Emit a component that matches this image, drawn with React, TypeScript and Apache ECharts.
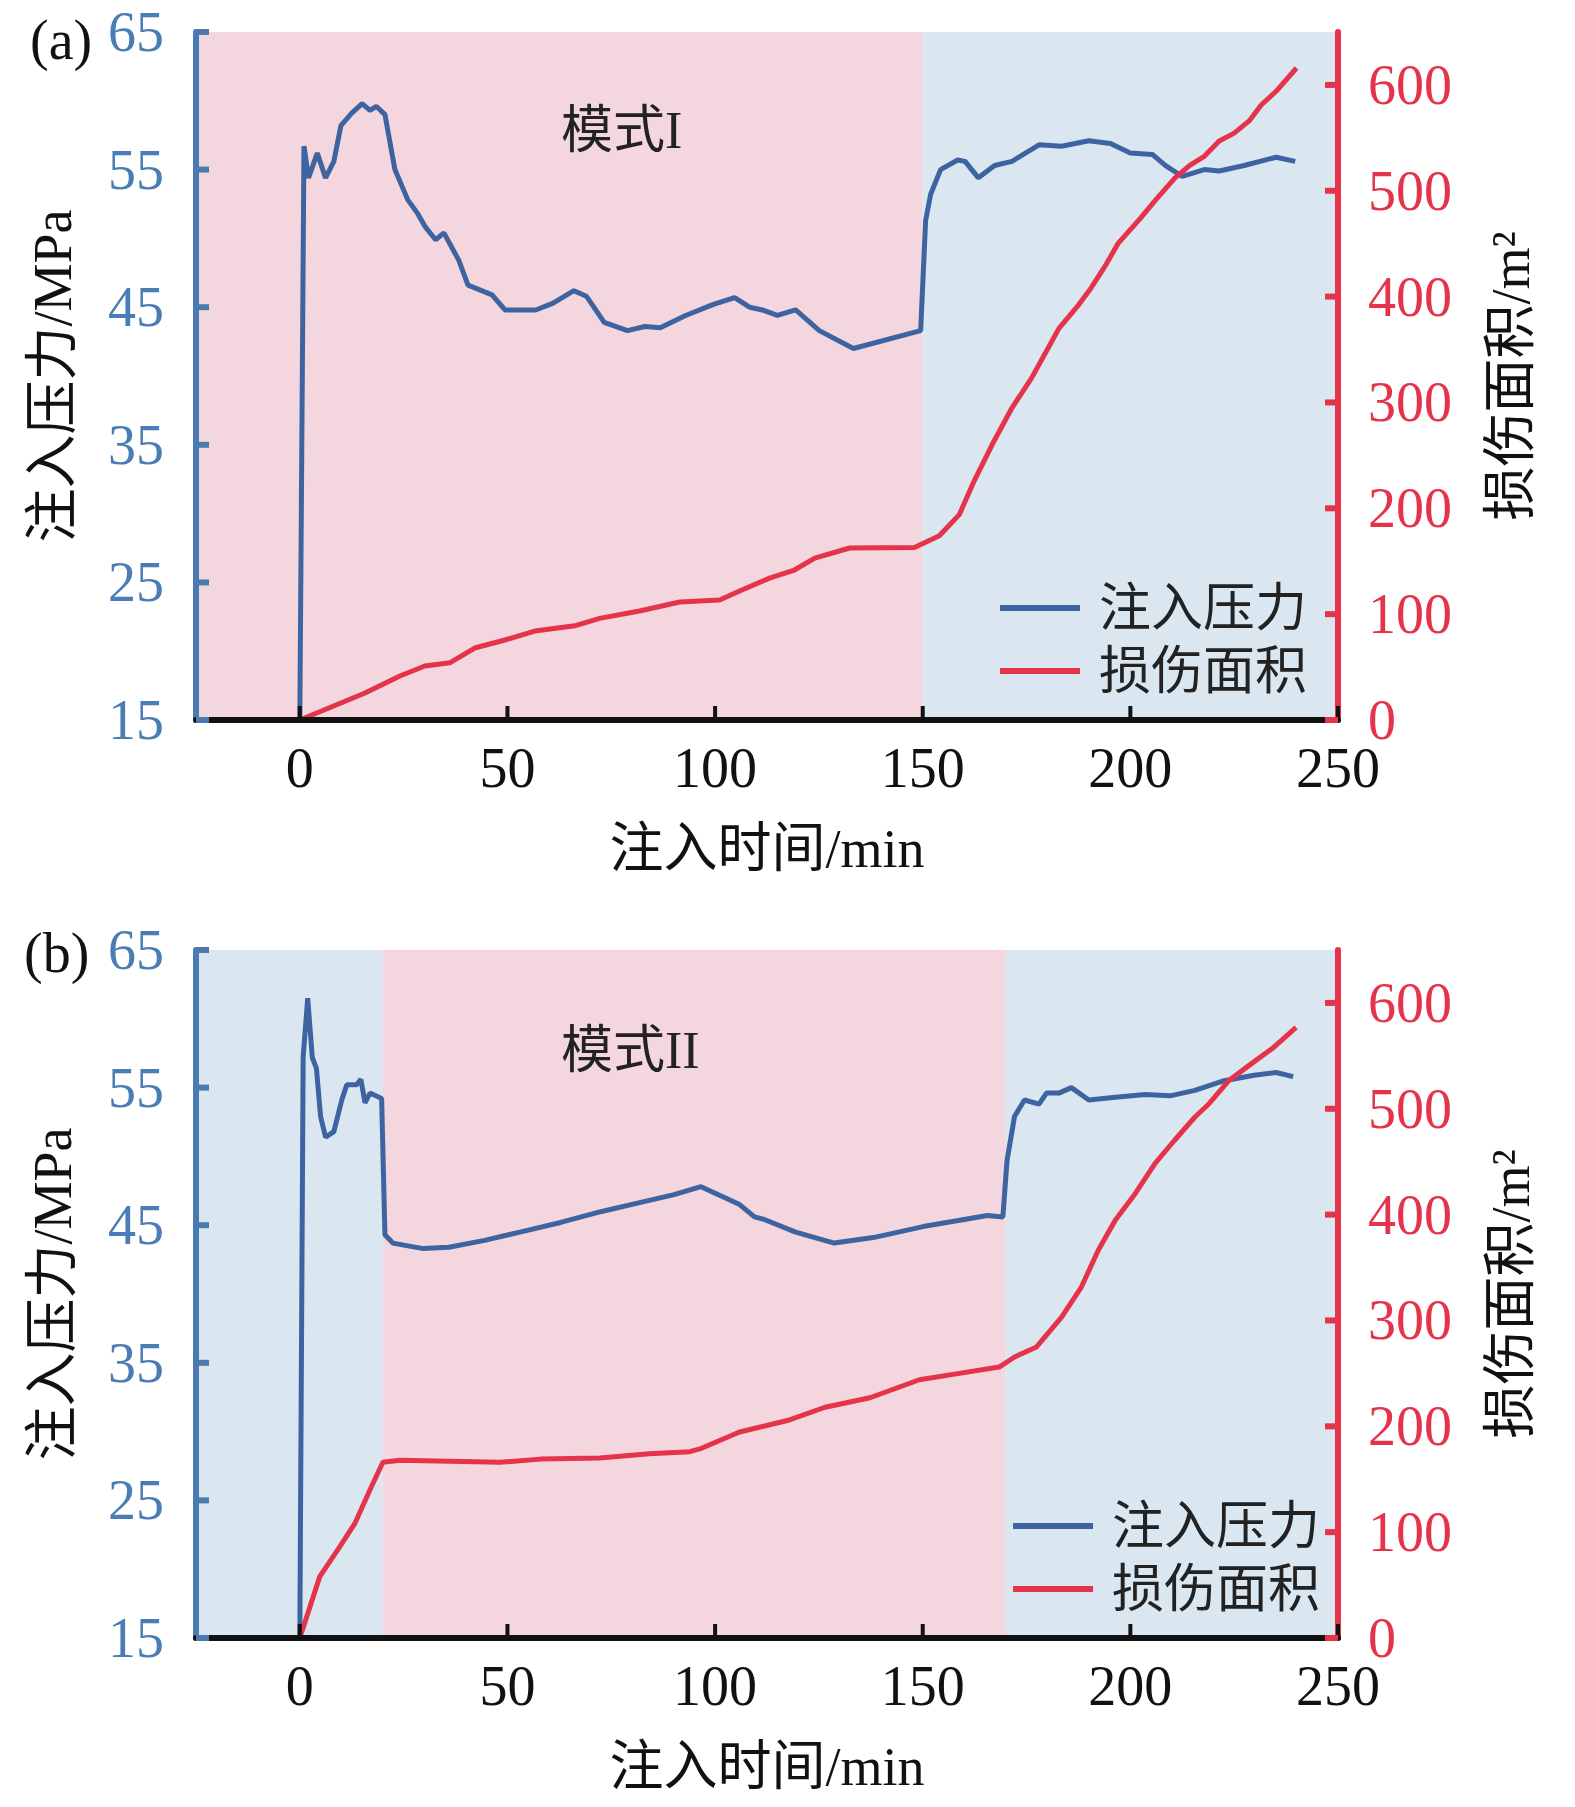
import * as echarts from "echarts"
import { useEffect, useRef } from "react"

const FONT = '"Liberation Serif", "Noto Sans CJK SC", serif'
const BLUE_LINE = "#3d64a0"
const BLUE_AXIS = "#4a7ab0"
const BLUE_TEXT = "#4a7cb5"
const RED = "#e4334a"
const PINK_BG = "#f4d7de"
const BLUE_BG = "#dae7f1"

const xTicks = [0, 50, 100, 150, 200, 250]
const pressureTicks = [15, 25, 35, 45, 55, 65]
const areaTicks = [0, 100, 200, 300, 400, 500, 600]
const legendNames = ["注入压力", "损伤面积"]

// (a) 模式I
const timeA_P = [
  0, 1.0, 2.1, 4.2, 6.2, 8.2, 9.9, 12.5, 15, 16.9, 18.4, 20.5, 22.9, 26, 28.4, 30.3, 32.7, 34.7,
  38.3, 40.5, 46.3, 49.4, 56.8, 61, 66, 69, 73.3, 78.9, 83.1, 86.8, 92.9, 99.6, 104.7, 108.3,
  111.4, 115, 119.4, 125.1, 133.3, 149.5, 150.7, 151.9, 154.3, 158.4, 160.2, 163.4, 167.3,
  171.5, 178, 183.4, 190, 195.2, 200, 205.3, 208.4, 212.5, 217.8, 221.4, 227.4, 235.1, 239.7,
]
const pressureA = [
  15, 56.7, 54.4, 56.2, 54.4, 55.6, 58.2, 59.1, 59.8, 59.3, 59.6, 59.0, 55.0, 52.8, 51.8, 50.8,
  49.9, 50.4, 48.4, 46.6, 45.9, 44.8, 44.8, 45.3, 46.2, 45.8, 43.9, 43.3, 43.6, 43.5, 44.4, 45.2,
  45.7, 45.0, 44.8, 44.4, 44.8, 43.3, 42.0, 43.3, 51.3, 53.2, 55.0, 55.7, 55.6, 54.4, 55.3, 55.6,
  56.8, 56.7, 57.1, 56.9, 56.2, 56.1, 55.3, 54.5, 55.0, 54.9, 55.3, 55.9, 55.6,
]
const timeA_D = [
  0, 15.7, 24.1, 30.1, 36.1, 42.1, 49.4, 56.6, 66.2, 72.2, 81.8, 91.5, 101.1, 105.9, 113.1,
  119.1, 124, 132.4, 148, 154, 158.8, 162.4, 166.7, 171.5, 176.2, 179.8, 182.8, 187.5, 190.5,
  194.1, 197.1, 202.4, 206, 210.7, 214.3, 217.8, 221.4, 225, 228.6, 231.5, 235.1, 240,
]
const areaA = [
  0, 25.5, 41.6, 51, 54, 68, 75.6, 84, 89, 96, 103, 111.5, 113.4, 121.8, 134, 141.7, 153, 162.5,
  163, 174, 194, 226, 260, 295, 323, 348.6, 370, 392, 408, 430, 450.6, 474, 491, 512, 524, 532.6,
  547, 554.5, 566, 581, 594, 616,
]

// (b) 模式II
const timeB_P = [
  0, 0.8, 1.9, 3.0, 4.0, 5.0, 6.2, 8.2, 10.1, 11.3, 13.7, 14.7, 15.7, 16.9, 19.7, 20.5, 22.4,
  29.7, 35.9, 44.5, 53, 62.8, 72.7, 81.3, 89.9, 96.6, 101.6, 105.9, 109.5, 112, 119.4, 128.7,
  138.1, 150.1, 165.6, 169.3, 170.3, 172.1, 174.5, 178, 179.8, 182.8, 185.8, 190, 196.4, 203.6,
  209.6, 215.5, 222.6, 229.8, 235.1, 239.2,
]
const pressureB = [
  15, 57.2, 61.5, 57.2, 56.4, 52.9, 51.4, 51.8, 54.1, 55.2, 55.2, 55.6, 53.9, 54.6, 54.2, 44.3,
  43.7, 43.3, 43.4, 43.9, 44.5, 45.2, 46.0, 46.6, 47.2, 47.8, 47.1, 46.5, 45.6, 45.4, 44.5, 43.7,
  44.1, 44.9, 45.7, 45.6, 49.7, 52.9, 54.1, 53.8, 54.6, 54.6, 55.0, 54.1, 54.3, 54.5, 54.4, 54.8,
  55.5, 55.9, 56.1, 55.8,
]
const timeB_D = [
  0, 4.8, 9.6, 13.3, 16.9, 20, 24.1, 48.1, 57.9, 72.2, 84.2, 93.9, 96.3, 105.9, 117.9, 126.5,
  137.3, 149.2, 158.8, 168.4, 172.1, 177.4, 183.4, 188.2, 192.3, 196.4, 201.2, 206, 210.7, 215.5,
  219, 223.8, 228.6, 234.5, 239.9,
]
const areaB = [
  0, 58, 86, 108.6, 140, 166, 168, 166, 169, 170, 174, 176, 178.6, 194.6, 206, 218, 227, 244, 250,
  256, 265.5, 275, 303, 331.6, 366.5, 395, 420, 448.7, 470.5, 492, 505, 527, 541, 558, 577,
]

// stage shading: [start, end, kind]
const stagesA: [number, number, string][] = [
  [-25, 150, "pink"],
  [150, 250, "blue"],
]
const stagesB: [number, number, string][] = [
  [-25, 20, "blue"],
  [20, 170, "pink"],
  [170, 250, "blue"],
]

const zip = (xs: number[], ys: number[]) => xs.map((x, i) => [x, ys[i]])

const GRID_TOPS = [32, 950]
const GRID_H = 688

const xAxisFor = (gridIndex: number) => ({
  type: "value",
  gridIndex,
  min: -25,
  max: 250,
  z: 12,
  name: "注入时间/min",
  nameLocation: "middle",
  nameGap: 102,
  nameTextStyle: { fontSize: 54, fontFamily: FONT, color: "#111" },
  axisLine: { onZero: false, lineStyle: { color: "#111", width: 6 } },
  axisTick: { show: false },
  axisLabel: { customValues: xTicks, margin: 20, fontSize: 56, fontFamily: FONT, color: "#111" },
  splitLine: { show: false },
})

const leftAxisFor = (gridIndex: number) => ({
  type: "value",
  gridIndex,
  position: "left",
  min: 15,
  max: 65,
  z: 10,
  name: "注入压力/MPa",
  nameLocation: "middle",
  nameGap: 116,
  nameTextStyle: { fontSize: 54, fontFamily: FONT, color: "#111" },
  axisLine: { show: true, onZero: false, lineStyle: { color: BLUE_AXIS, width: 6 } },
  axisTick: { show: false },
  axisLabel: { customValues: pressureTicks, margin: 32, fontSize: 56, fontFamily: FONT, color: BLUE_TEXT },
  splitLine: { show: false },
})

const rightAxisFor = (gridIndex: number) => ({
  type: "value",
  gridIndex,
  position: "right",
  min: 0,
  max: 650,
  z: 10,
  name: "损伤面积/m²",
  nameLocation: "middle",
  nameGap: 146,
  nameTextStyle: { fontSize: 54, fontFamily: FONT, color: "#111" },
  axisLine: { show: true, onZero: false, lineStyle: { color: RED, width: 6 } },
  axisTick: { show: false },
  axisLabel: { customValues: areaTicks, margin: 30, fontSize: 56, fontFamily: FONT, color: RED },
  splitLine: { show: false },
})

// background bands live on an empty series that sits under everything
const shadingSeries = (stages: [number, number, string][], xAxisIndex: number, yAxisIndex: number) => ({
  type: "line",
  xAxisIndex,
  yAxisIndex,
  data: [],
  z: 0,
  silent: true,
  markArea: {
    silent: true,
    z: 0,
    data: stages.map(([a, b, kind]) => [
      { xAxis: a, itemStyle: { color: kind === "pink" ? PINK_BG : BLUE_BG } },
      { xAxis: b },
    ]),
  },
})

const lineSeries = (name: string, data: number[][], xAxisIndex: number, yAxisIndex: number, color: string) => ({
  name,
  type: "line",
  xAxisIndex,
  yAxisIndex,
  data,
  showSymbol: false,
  symbol: "none",
  lineStyle: { color, width: 5 },
  itemStyle: { color },
  z: 3,
})

const legendAt = (left: number, top: number) => ({
  left,
  top,
  orient: "vertical",
  icon: "rect",
  itemWidth: 80,
  itemHeight: 6,
  itemGap: 11,
  selectedMode: false,
  data: legendNames,
  textStyle: { fontSize: 52, lineHeight: 50, fontFamily: FONT, color: "#222", padding: [0, 0, 0, 14] },
})

const labels = [
  { type: "text", x: 30, y: 40, z: 100, style: { text: "(a)", fontSize: 56, fontFamily: FONT, fill: "#111", verticalAlign: "middle" } },
  { type: "text", x: 24, y: 953, z: 100, style: { text: "(b)", fontSize: 56, fontFamily: FONT, fill: "#111", verticalAlign: "middle" } },
  { type: "text", x: 561, y: 130, z: 100, style: { text: "模式I", fontSize: 52, fontFamily: FONT, fill: "#222", verticalAlign: "middle" } },
  { type: "text", x: 561, y: 1050, z: 100, style: { text: "模式II", fontSize: 52, fontFamily: FONT, fill: "#222", verticalAlign: "middle" } },
]

// which series sits on (grid, left axis) and (grid, right axis)
const leftSeriesOf = [2, 4]
const rightSeriesOf = [3, 5]

export default function App() {
  const chartRef = useRef<HTMLDivElement>(null)

  useEffect(() => {
    document.body.style.margin = "0"
    if (!chartRef.current) return
    const chart = echarts.init(chartRef.current, null, { renderer: "svg" })

    const option: any = {
      animation: false,
      backgroundColor: "#fff",
      grid: GRID_TOPS.map((top) => ({ left: 196, right: 237, top, height: GRID_H })),
      xAxis: [xAxisFor(0), xAxisFor(1)],
      yAxis: [leftAxisFor(0), rightAxisFor(0), leftAxisFor(1), rightAxisFor(1)],
      legend: [legendAt(995, 577), legendAt(1008, 1495)],
      series: [
        shadingSeries(stagesA, 0, 0),
        shadingSeries(stagesB, 1, 2),
        lineSeries("注入压力", zip(timeA_P, pressureA), 0, 0, BLUE_LINE),
        lineSeries("损伤面积", zip(timeA_D, areaA), 0, 1, RED),
        lineSeries("注入压力", zip(timeB_P, pressureB), 1, 2, BLUE_LINE),
        lineSeries("损伤面积", zip(timeB_D, areaB), 1, 3, RED),
      ],
      graphic: labels,
    }

    chart.setOption(option)

    // inward ticks, placed through the series' own coordinate systems
    const ticks: any[] = []
    const toPx = (seriesIndex: number, x: number, y: number): number[] | null => {
      try {
        const p = chart.convertToPixel({ seriesIndex } as any, [x, y]) as any
        if (Array.isArray(p) && Number.isFinite(p[0]) && Number.isFinite(p[1])) return p
      } catch (e) {
        // ignore
      }
      return null
    }
    ;[0, 1].forEach((g) => {
      const ls = leftSeriesOf[g]
      const rs = rightSeriesOf[g]
      const corner = toPx(ls, -25, 15)
      const far = toPx(ls, 250, 15)
      if (!corner || !far) return
      const left = corner[0]
      const base = corner[1]
      const right = far[0]
      xTicks.forEach((v) => {
        const p = toPx(ls, v, 15)
        if (!p) return
        ticks.push({ type: "line", z: 90, shape: { x1: p[0], y1: base, x2: p[0], y2: base - 14 }, style: { stroke: "#111", lineWidth: 4 } })
      })
      pressureTicks.forEach((v) => {
        const p = toPx(ls, -25, v)
        if (!p) return
        ticks.push({ type: "line", z: 90, shape: { x1: left, y1: p[1], x2: left + 13, y2: p[1] }, style: { stroke: BLUE_AXIS, lineWidth: 6 } })
      })
      areaTicks.forEach((v) => {
        const p = toPx(rs, 250, v)
        if (!p) return
        ticks.push({ type: "line", z: 90, shape: { x1: right, y1: p[1], x2: right - 13, y2: p[1] }, style: { stroke: RED, lineWidth: 6 } })
      })
    })
    if (ticks.length) {
      chart.setOption({ graphic: [...labels, ...ticks] } as any)
    }

    return () => {
      chart.dispose()
    }
  }, [])

  return <div ref={chartRef} style={{ width: "1575px", height: "1807px" }} />
}
